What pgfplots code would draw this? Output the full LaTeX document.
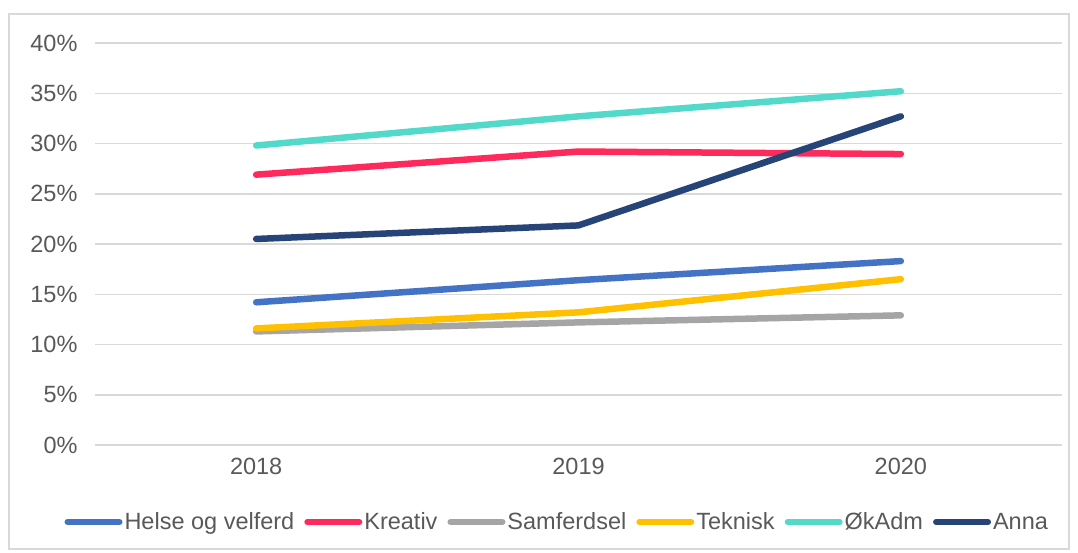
\documentclass[border=0pt]{standalone}
\usepackage{pgfplots}
\pgfplotsset{compat=1.18}
\usepackage{fontspec}
\setmainfont{Liberation Sans}
\definecolor{txt}{HTML}{595959}
\definecolor{gridc}{HTML}{D9D9D9}
\definecolor{cHelse}{HTML}{4472C4}
\definecolor{cKreativ}{HTML}{FF2A5C}
\definecolor{cSamf}{HTML}{A5A5A5}
\definecolor{cTek}{HTML}{FFC000}
\definecolor{cOk}{HTML}{52D9C9}
\definecolor{cAnna}{HTML}{264478}
\begin{document}
\begin{tikzpicture}
\useasboundingbox (0,0) rectangle (1078pt,552pt);
\draw[gridc, line width=1.5pt] (9pt,3pt) rectangle (1069pt,538pt);
\begin{axis}[
  at={(95pt,107pt)}, anchor=south west,
  scale only axis, width=967pt, height=402pt,
  xmin=-0.5, xmax=2.5, ymin=0, ymax=40,
  xtick={0,1,2}, xticklabels={2018,2019,2020},
  ytick={0,5,...,40},
  yticklabels={0\%,5\%,10\%,15\%,20\%,25\%,30\%,35\%,40\%},
  axis line style={draw=none},
  major tick length=0pt,
  xmajorgrids=false, ymajorgrids=true,
  grid style={draw=gridc, line width=1.5pt},
  tick label style={font=\fontsize{23.5}{27}\selectfont, text=txt},
  yticklabel style={xshift=-14pt},
  xticklabel style={yshift=-10pt},
  clip=false,
  every axis plot/.append style={line width=6.5pt, line cap=round, line join=round},
  legend style={draw=none, fill=none, at={(0.478,-0.1915)}, anchor=center,
    font=\fontsize{23.5}{27}\selectfont, text=txt, legend cell align=left,
    inner sep=0pt,
    /tikz/every odd column/.append style={column sep=0pt},
    /tikz/every even column/.append style={column sep=8pt}},
  legend columns=6,
  legend image code/.code={\draw[#1, line width=6pt, line cap=round] (0pt,0pt) -- (52pt,0pt);},
]
\addplot[cHelse] coordinates {(0,14.2) (1,16.4) (2,18.3)};
\addplot[cKreativ] coordinates {(0,26.9) (1,29.2) (2,28.95)};
\addplot[cSamf] coordinates {(0,11.3) (1,12.2) (2,12.9)};
\addplot[cTek] coordinates {(0,11.6) (1,13.2) (2,16.5)};
\addplot[cOk] coordinates {(0,29.8) (1,32.7) (2,35.2)};
\addplot[cAnna] coordinates {(0,20.5) (1,21.85) (2,32.7)};
\legend{Helse og velferd, Kreativ, Samferdsel, Teknisk, ØkAdm, Anna}
\end{axis}
\end{tikzpicture}
\end{document}
